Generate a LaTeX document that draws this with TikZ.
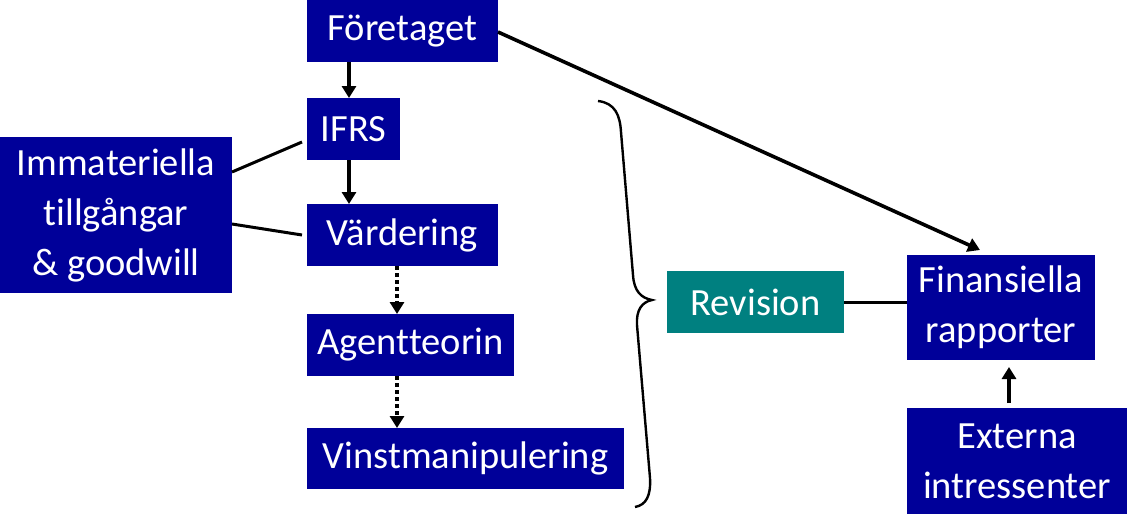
\documentclass[tikz,border=0pt]{standalone}
\usepackage{fontspec}
\setmainfont{Carlito}[RawFeature=-liga]
\usetikzlibrary{arrows.meta}
\definecolor{boxblue}{RGB}{0,0,153}
\definecolor{boxteal}{RGB}{0,128,128}
\tikzset{
  bbox/.style={fill=boxblue, draw=none, text=white, inner sep=0pt, align=center,
    font=\fontsize{38.5}{50}\selectfont},
  tbox/.style={bbox, fill=boxteal},
  arr/.style={line width=3.6pt, -{Triangle[width=14pt,length=12pt]}},
  darr/.style={arr, dash pattern=on 4pt off 3pt},
  plain/.style={line width=3pt},
}
\begin{document}
\begin{tikzpicture}[x=1pt,y=-1pt]
\useasboundingbox (0,0) rectangle (1127,514);
\node[bbox, minimum width=191pt, minimum height=62pt] (f) at (402.5,31) {Företaget};
\node[bbox, minimum width=93pt, minimum height=62pt] (ifrs) at (353.5,129) {IFRS};
\node[bbox, minimum width=232pt, minimum height=156pt] (imm) at (116,215) {Immateriella\\tillgångar\\\& goodwill};
\node[bbox, minimum width=191pt, minimum height=62pt] (v) at (402.5,235) {Värdering};
\node[bbox, minimum width=207pt, minimum height=62pt] (a) at (410.5,345) {Agentteorin};
\node[bbox, minimum width=317pt, minimum height=61pt] (vm) at (465.5,458.5) {Vinstmanipulering};
\node[tbox, minimum width=177pt, minimum height=62pt] (rev) at (755.5,302) {Revision};
\node[bbox, minimum width=188pt, minimum height=105pt] (fin) at (1001,307.5) {Finansiella\\rapporter};
\node[bbox, minimum width=220pt, minimum height=106pt] (ext) at (1017,461) {Externa\\intressenter};

\coordinate (fa) at (349,62);
\coordinate (ia) at (349,98);
\coordinate (ib) at (349,160);
\coordinate (va) at (349,204);
\draw[arr] (fa) -- (ia);
\draw[arr] (ib) -- (va);
\coordinate (vb) at (397,266);
\coordinate (aa) at (397,314);
\coordinate (ab) at (397,376);
\coordinate (vma) at (397,428);
\draw[darr] (vb) -- (aa);
\draw[darr] (ab) -- (vma);

\coordinate (im1) at (232,172);
\coordinate (ifl) at (302,142);
\coordinate (im2) at (232,224);
\coordinate (vl) at (302,235);
\draw[plain] (im1) -- (ifl);
\draw[plain] (im2) -- (vl);

\coordinate (fr) at (498,32);
\coordinate (fint) at (980,250);
\draw[arr] (fr) -- (fint);

\draw[plain] (rev.east) -- (fin.west |- rev.east);

\coordinate (exta) at (1009,403);
\coordinate (fina) at (1009,367);
\draw[arr] (exta) -- (fina);

\draw[line width=2.4pt]
  (598,101) .. controls (615,103) and (620,115) .. (621,132)
  -- (633,275) .. controls (634,291) and (641,298) .. (652,300)
  .. controls (642,302) and (636,310) .. (637,325)
  -- (650,478) .. controls (651,496) and (646,505) .. (635,507);
\end{tikzpicture}
\end{document}
